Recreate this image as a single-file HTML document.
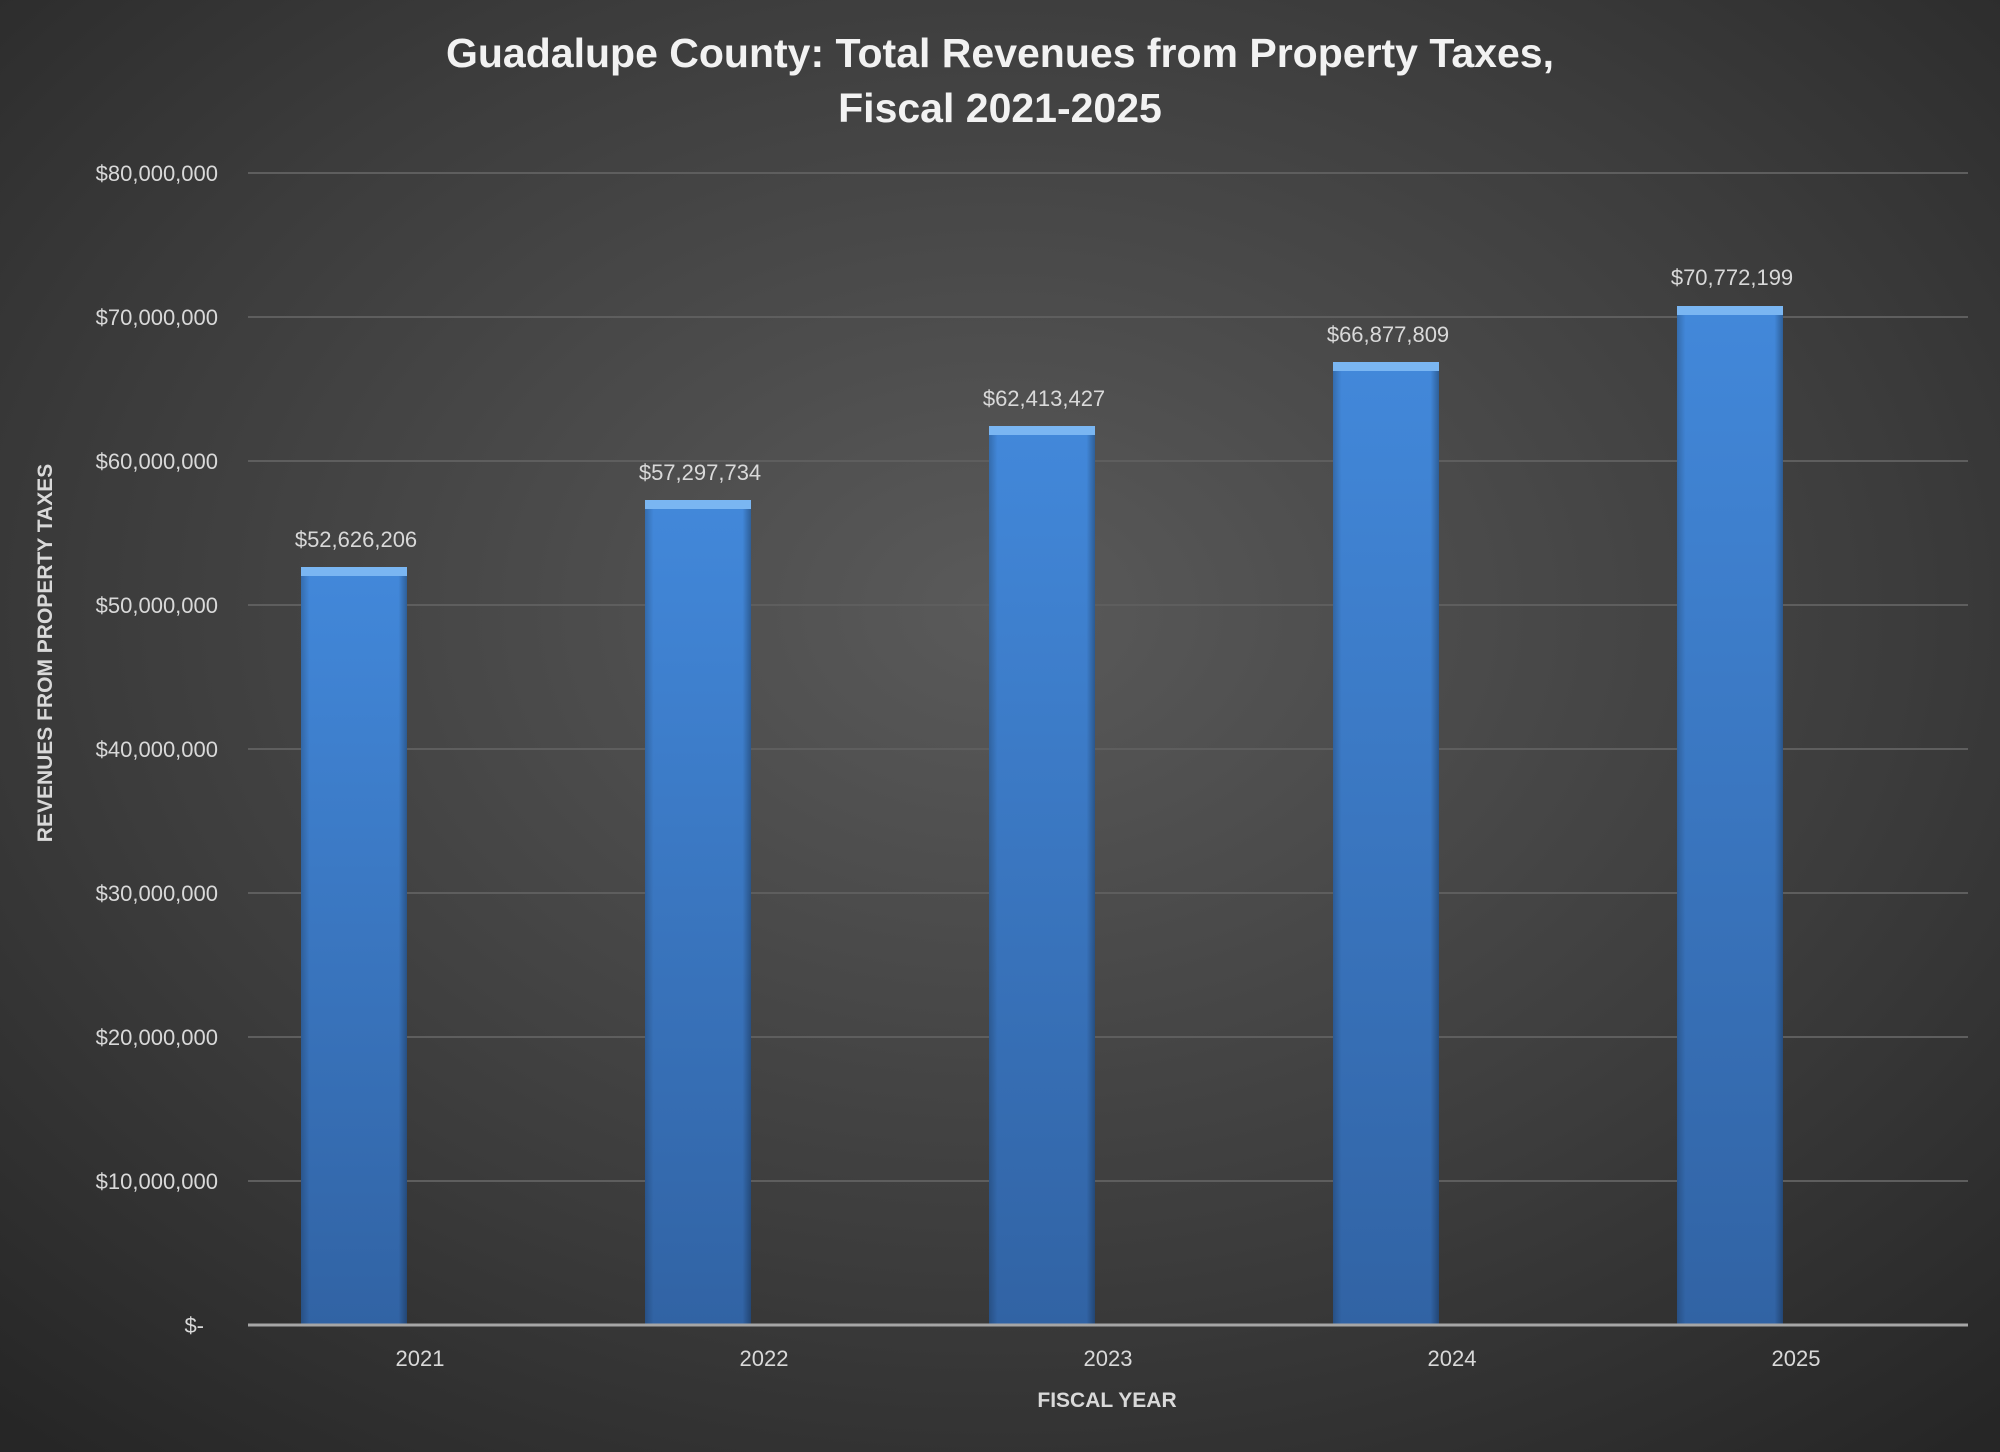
<!DOCTYPE html>
<html><head><style>
body{margin:0}
svg{display:block}
text{font-family:"Liberation Sans",sans-serif}
</style></head><body>
<svg width="2000" height="1452" viewBox="0 0 2000 1452" xmlns="http://www.w3.org/2000/svg">
<defs>
<radialGradient id="bg" cx="0.5" cy="0.42" r="0.75">
<stop offset="0" stop-color="#5a5a5a"/><stop offset="0.6" stop-color="#3c3c3c"/><stop offset="1" stop-color="#262626"/>
</radialGradient>
<linearGradient id="bar" x1="0" y1="0" x2="0" y2="1">
<stop offset="0" stop-color="#4288da"/><stop offset="1" stop-color="#3163a4"/>
</linearGradient>
<linearGradient id="side" x1="0" y1="0" x2="1" y2="0">
<stop offset="0" stop-color="#000" stop-opacity="0.2"/><stop offset="0.08" stop-color="#000" stop-opacity="0"/><stop offset="0.92" stop-color="#000" stop-opacity="0"/><stop offset="1" stop-color="#000" stop-opacity="0.3"/>
</linearGradient>
</defs>
<rect width="2000" height="1452" fill="url(#bg)"/>
<text x="1000" y="67" text-anchor="middle" font-size="41" font-weight="bold" fill="#f2f2f2">Guadalupe County: Total Revenues from Property Taxes,</text>
<text x="1000" y="122" text-anchor="middle" font-size="41" font-weight="bold" fill="#f2f2f2">Fiscal 2021-2025</text>
<g stroke="#5e5e5e" stroke-width="2">
<line x1="248" x2="1968" y1="173" y2="173"/><line x1="248" x2="1968" y1="317" y2="317"/>
<line x1="248" x2="1968" y1="461" y2="461"/><line x1="248" x2="1968" y1="605" y2="605"/>
<line x1="248" x2="1968" y1="749" y2="749"/><line x1="248" x2="1968" y1="893" y2="893"/>
<line x1="248" x2="1968" y1="1037" y2="1037"/><line x1="248" x2="1968" y1="1181" y2="1181"/>
</g>
<g font-size="22" fill="#d9d9d9" text-anchor="end">
<text x="218" y="181">$80,000,000</text><text x="218" y="325">$70,000,000</text>
<text x="218" y="469">$60,000,000</text><text x="218" y="613">$50,000,000</text>
<text x="218" y="757">$40,000,000</text><text x="218" y="901">$30,000,000</text>
<text x="218" y="1045">$20,000,000</text><text x="218" y="1189">$10,000,000</text>
<text x="204" y="1333">$-</text>
</g>
<g>
<rect x="301" y="567" width="106" height="758" fill="url(#bar)"/><rect x="301" y="567" width="106" height="758" fill="url(#side)"/><rect x="301" y="567" width="106" height="9" fill="#7ab6f2"/>
<rect x="645" y="500" width="106" height="825" fill="url(#bar)"/><rect x="645" y="500" width="106" height="825" fill="url(#side)"/><rect x="645" y="500" width="106" height="9" fill="#7ab6f2"/>
<rect x="989" y="426" width="106" height="899" fill="url(#bar)"/><rect x="989" y="426" width="106" height="899" fill="url(#side)"/><rect x="989" y="426" width="106" height="9" fill="#7ab6f2"/>
<rect x="1333" y="362" width="106" height="963" fill="url(#bar)"/><rect x="1333" y="362" width="106" height="963" fill="url(#side)"/><rect x="1333" y="362" width="106" height="9" fill="#7ab6f2"/>
<rect x="1677" y="306" width="106" height="1019" fill="url(#bar)"/><rect x="1677" y="306" width="106" height="1019" fill="url(#side)"/><rect x="1677" y="306" width="106" height="9" fill="#7ab6f2"/>
</g>
<line x1="248" x2="1968" y1="1325" y2="1325" stroke="#a6a6a6" stroke-width="3"/>
<g font-size="22" fill="#d9d9d9" text-anchor="middle">
<text x="356" y="547">$52,626,206</text><text x="700" y="480">$57,297,734</text>
<text x="1044" y="406">$62,413,427</text><text x="1388" y="342">$66,877,809</text>
<text x="1732" y="285">$70,772,199</text>
<text x="420" y="1366">2021</text><text x="764" y="1366">2022</text><text x="1108" y="1366">2023</text>
<text x="1452" y="1366">2024</text><text x="1796" y="1366">2025</text>
</g>
<text x="1107" y="1407" text-anchor="middle" font-size="21" font-weight="bold" fill="#d9d9d9">FISCAL YEAR</text>
<text transform="translate(52,653) rotate(-90)" text-anchor="middle" font-size="21" font-weight="bold" fill="#d9d9d9">REVENUES FROM PROPERTY TAXES</text>
</svg>
</body></html>
